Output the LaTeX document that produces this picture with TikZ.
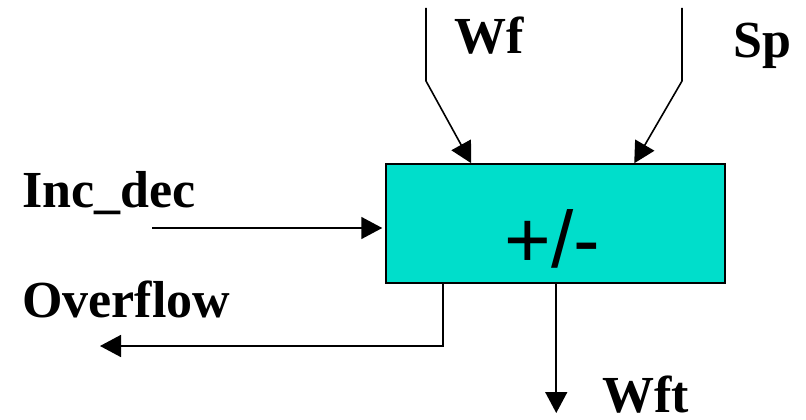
\documentclass[tikz,border=0pt]{standalone}
\usepackage{fontspec}
\setmainfont{Liberation Serif}
\newfontfamily\arialfont{Liberation Sans}
\usetikzlibrary{arrows.meta,positioning,calc}
\definecolor{adderfill}{HTML}{00DECB}
\tikzset{
  adderbox/.style={draw, line width=1.5pt, fill=adderfill, minimum width=339pt,
    minimum height=119pt, inner sep=0pt},
  sig/.style={font=\fontsize{52}{52}\selectfont\bfseries, anchor=base west, inner sep=0pt},
  wire/.style={line width=1.6pt, line join=miter},
  arr/.style={wire, -{Triangle[length=21pt, width=22pt]}}
}

\begin{document}
\begin{tikzpicture}[x=1pt, y=-1pt]
    \useasboundingbox (0,0) rectangle (806,420);
    \node[adderbox] (add) at (555.5,223.5) {};
    \node[font=\fontsize{80}{80}\selectfont\arialfont, anchor=base, inner sep=0pt]
      (op) at ($(add.south)+(-3,-16)$) {+/-};

    \node[sig] (wf) at (454,54) {Wf};
    \node[sig] (sp) at (733,58) {Sp};
    \node[sig] (inc) at (22,207) {Inc\_dec};
    \node[sig] (ovf) at (22,317) {Overflow};
    \node[sig] (wft) at (602,412) {Wft};

    \coordinate (wftop) at (426,8);
    \coordinate (wfbend) at (426,81);
    \coordinate (sptop) at (682,8);
    \coordinate (spbend) at (682,81);
    \coordinate (incin) at (152,228);
    \coordinate (ovfout) at (100,346);
    \coordinate (wftout) at (557,413);

    \draw[arr] (wftop) -- (wfbend) -- ($(add.north west)+(86,0)$);
    \draw[arr] (sptop) -- (spbend) -- ($(add.north west)+(249,0)$);
    \draw[arr, shorten >=3pt] (incin) -- (incin -| add.west);
    \draw[arr] ($(add.south west)+(58,0)$) |- (ovfout);
    \draw[arr] ($(add.south west)+(171,0)$) -- (wftout -| {$(add.south west)+(171,0)$});
  \end{tikzpicture}
\end{document}
